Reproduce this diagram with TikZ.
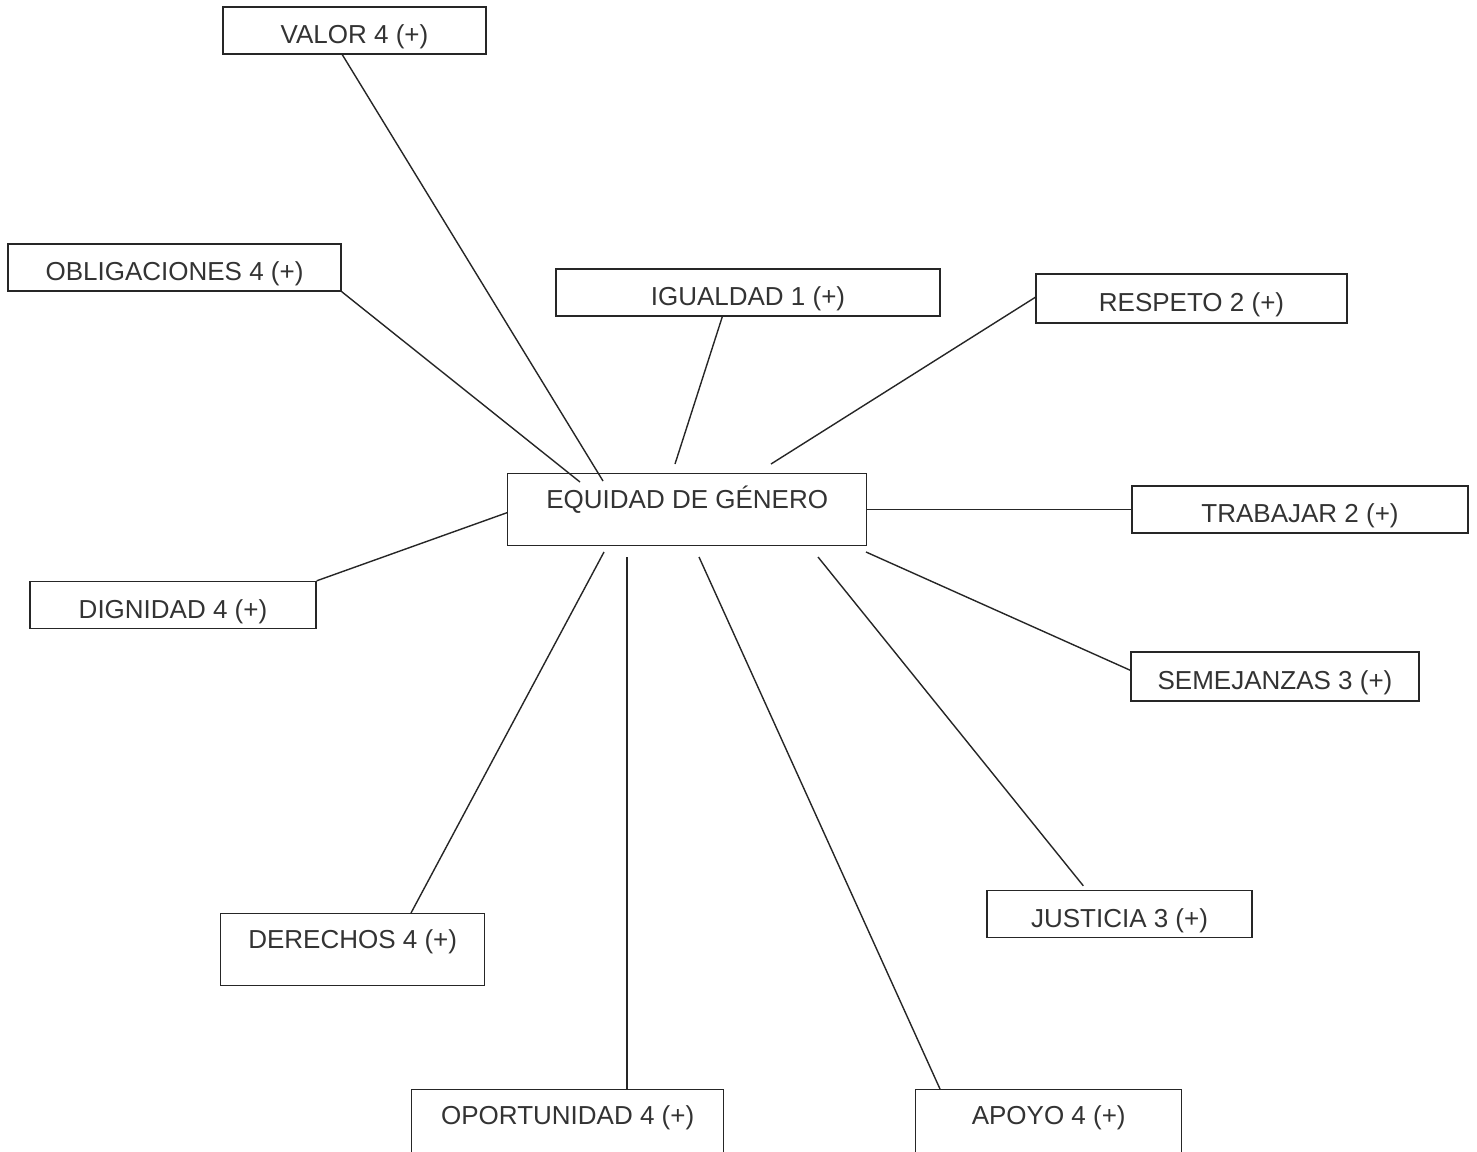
\documentclass[tikz,border=0pt]{standalone}
\usepackage{fontspec}
\setmainfont{Liberation Sans}
\usetikzlibrary{calc}
\tikzset{
  box/.style={draw=black!85, line width=0.7pt, inner xsep=2pt, inner ysep=0pt, minimum height=23.5pt, text height=16.3pt, text depth=3pt, text=black!80, font=\fontsize{13}{15}\selectfont},
  tallbox/.style={box, minimum height=0pt, text height=17.5pt, text depth=18.5pt, anchor=north west},
  link/.style={draw=black!85, line width=0.7pt}
}
\begin{document}
\begin{tikzpicture}[x=0.5pt,y=-0.5pt]
\clip (0,0) rectangle (1477,1151);
\fill[white] (0,0) rectangle (1477,1151);
% nodes
\node[box, minimum width=131.5pt] (valor) at (354.5,30.5) {VALOR 4 (+)};
\node[box, minimum width=166.5pt] (oblig) at (174.5,267.5) {OBLIGACIONES 4 (+)};
\node[box, minimum width=192pt] (igual) at (748,292.5) {IGUALDAD 1 (+)};
\node[box, minimum width=155.5pt, minimum height=24.5pt] (resp) at (1191.5,298.5) {RESPETO 2 (+)};
\node[tallbox, minimum width=179.5pt] (equidad) at (507,473) {EQUIDAD DE GÉNERO};
\node[box, minimum width=168pt] (trab) at (1300,509.5) {TRABAJAR 2 (+)};
\node[box, minimum width=143pt] (dign) at (173,605) {DIGNIDAD 4 (+)};
\node[box, minimum width=144pt, minimum height=24.5pt] (seme) at (1275,676.5) {SEMEJANZAS 3 (+)};
\node[box, minimum width=132.5pt] (just) at (1119.5,914) {JUSTICIA 3 (+)};
\node[tallbox, minimum width=132pt] (dere) at (220,913) {DERECHOS 4 (+)};
\node[tallbox, minimum width=156pt] (oport) at (411,1089) {OPORTUNIDAD 4 (+)};
\node[tallbox, minimum width=133pt] (apoyo) at (915,1089) {APOYO 4 (+)};
% free ends near the central box
\coordinate (hV) at (603,481);
\coordinate (hO) at (580,482);
\coordinate (hI) at (675,464);
\coordinate (hR) at (771,464);
\coordinate (hS) at (866,552);
\coordinate (hJ) at (818,557);
\coordinate (hA) at (699,557);
\coordinate (hP) at (627,557);
\coordinate (hD) at (604,552);
% connectors
\draw[link] ($(valor.south west)+(120,0)$) -- (hV);
\draw[link] (oblig.south east) -- (hO);
\draw[link] ($(igual.south west)+(167,0)$) -- (hI);
\draw[link] ($(resp.north west)+(0,24)$) -- (hR);
\draw[link] (trab.west) -- (trab.west -| equidad.east);
\draw[link] (dign.north east) -- ($(equidad.west)+(0,3)$);
\draw[link] (hS) -- ($(seme.north west)+(0,19)$);
\draw[link] (hJ) -- ($(just.north west)+(97,-4)$);
\draw[link] (hA) -- ($(apoyo.north west)+(25,0)$);
\draw[link] (hP) -- ($(oport.north west)+(216,0)$);
\draw[link] (hD) -- ($(dere.north west)+(191,0)$);
\end{tikzpicture}
\end{document}
